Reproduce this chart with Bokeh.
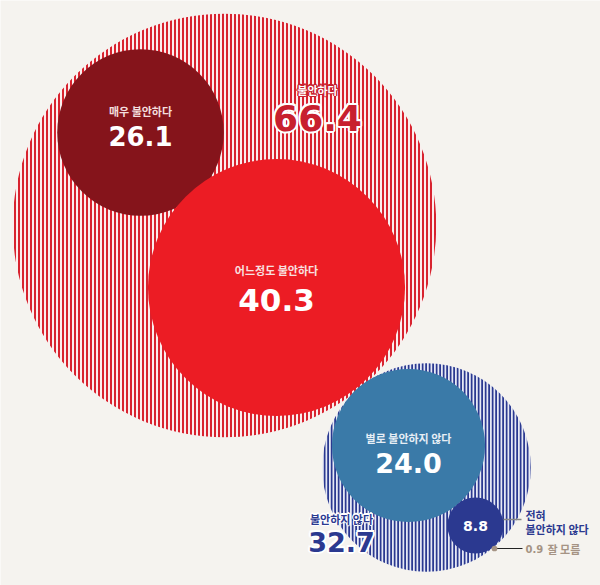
from bokeh.plotting import figure
from bokeh.models import Range1d, ColumnDataSource
from bokeh.embed import file_html
from bokeh.resources import INLINE
from bokeh.core.properties import value

# ---- data ----
categories = ["불안하다", "매우 불안하다", "어느정도 불안하다",
              "불안하지 않다", "별로 불안하지 않다", "전혀 불안하지 않다", "잘 모름"]
values = [66.4, 26.1, 40.3, 32.7, 24.0, 8.8, 0.9]

# ---- layout (pixel-like coordinates, y flipped) ----
cx = [224, 140, 276, 426, 408, 475, 494]
cy = [225, 132, 287, 467, 445, 525, 548]
SCALE = 3.19  # radius per percentage point
radii = [v * SCALE for v in values]

BG = "#f5f3ef"
p = figure(width=600, height=585, output_backend="svg", toolbar_location=None,
           x_range=Range1d(0, 600), y_range=Range1d(585, 0),
           min_border=0, background_fill_color=BG, border_fill_color=BG)
p.axis.visible = False
p.grid.visible = False
p.outline_line_color = None

# hatched group circles
p.circle(x=[cx[0]], y=[cy[0]], radius=[radii[0]], fill_color="#fbeeee",
         line_color=None, hatch_pattern="vertical_line", hatch_color="#d8232f",
         hatch_weight=2, hatch_scale=4)
p.circle(x=[cx[3]], y=[cy[3]], radius=[radii[3]], fill_color="#e6e9f5",
         line_color=None, hatch_pattern="vertical_line", hatch_color="#2b3990",
         hatch_weight=2, hatch_scale=3.5)

solid_idx = [1, 2, 4, 5]
solid_colors = ["#85141b", "#ec1c24", "#3a7aa8", "#2b3990"]
src = ColumnDataSource(dict(x=[cx[i] for i in solid_idx], y=[cy[i] for i in solid_idx],
                            r=[radii[i] for i in solid_idx], c=solid_colors))
p.circle(x="x", y="y", radius="r", fill_color="c", line_color=None, source=src)

# 잘 모름 dot and leader lines
p.segment(x0=[cx[6]], y0=[cy[6]], x1=[522], y1=[cy[6]], line_color="#222222", line_width=1)
p.circle(x=[cx[6]], y=[cy[6]], radius=[radii[6]], fill_color="#a59384", line_color=None)
p.segment(x0=[cx[5] + radii[5]], y0=[519], x1=[521], y1=[519], line_color="#888888", line_width=1.5)

KR = value("Noto Sans CJK KR")
NUM = value("DejaVu Sans")

OFFS = [(-2, 0), (2, 0), (0, -2), (0, 2), (-1.5, -1.5), (1.5, 1.5), (-1.5, 1.5), (1.5, -1.5)]

def txt(x, y, s, size, color, outline=None, align="center", font=KR, off=1.0):
    if outline:
        p.text(x=[x + dx * off for dx, dy in OFFS], y=[y + dy * off for dx, dy in OFFS],
               text=[s] * len(OFFS), text_font=font, text_font_size=f"{size}px",
               text_font_style="bold", text_color=outline, text_align=align,
               text_baseline="middle")
    p.text(x=[x], y=[y], text=[s], text_font=font, text_font_size=f"{size}px",
           text_font_style="bold", text_color=color, text_align=align,
           text_baseline="middle")

# labels
txt(317, 89, categories[0], 11, "#ffffff", outline="#c8202f", off=0.6)
txt(317, 117, f"{values[0]:.1f}", 36, "#c8202f", outline="#ffffff", font=NUM)

txt(140, 110, categories[1], 11, "#f3dede")
txt(140, 135, f"{values[1]:.1f}", 26, "#ffffff", font=NUM)

txt(276, 269, categories[2], 11, "#f8e0e0")
txt(276, 299, f"{values[2]:.1f}", 31, "#ffffff", font=NUM)

txt(408, 437, categories[4], 11, "#e6eef5")
txt(408, 462, f"{values[4]:.1f}", 27, "#ffffff", font=NUM)

txt(341, 518, categories[3], 11, "#2b3990", outline="#ffffff", off=0.6)
txt(341, 541, f"{values[3]:.1f}", 27, "#2b3990", outline="#ffffff", font=NUM)

txt(475, 525, f"{values[5]:.1f}", 14, "#ffffff", font=NUM)
txt(525, 514, "전혀", 11, "#2b3990", align="left")
txt(525, 528, "불안하지 않다", 11, "#2b3990", align="left")

txt(525, 548, f"{values[6]:.1f}", 10, "#a59384", align="left", font=NUM)
txt(547, 548, categories[6], 11, "#a59384", align="left")

open("out.html", "w").write(file_html(p, INLINE))
